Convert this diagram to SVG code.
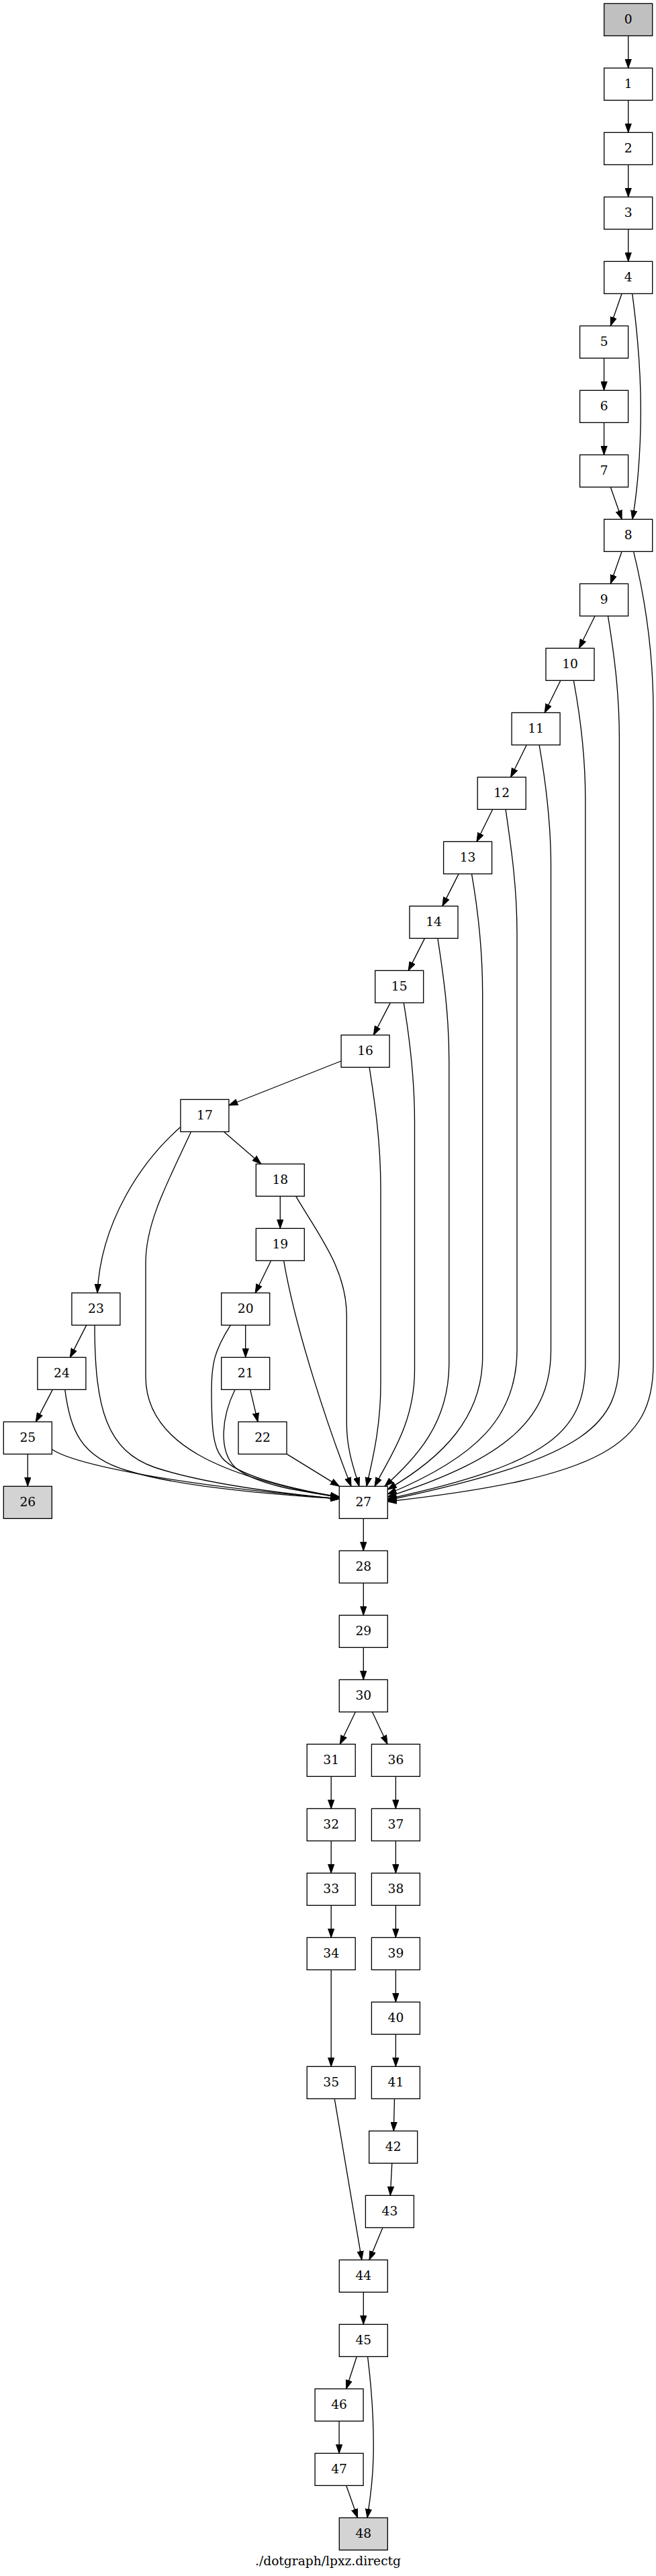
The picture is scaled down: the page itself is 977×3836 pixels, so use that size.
<svg xmlns="http://www.w3.org/2000/svg" width="977" height="3836" viewBox="0 0 977 3836">
<style>
.n rect{fill:#ffffff;stroke:#000000;stroke-width:1.33}
.n.g0 rect{fill:#c0c0c0}
.n.g1 rect{fill:#d3d3d3}
text{font-family:"DejaVu Serif","Liberation Serif",serif;font-size:18.67px;text-anchor:middle;fill:#000000}
#edges path{fill:none;stroke:#000000;stroke-width:1.33;marker-end:url(#ah)}
</style>
<defs>
<marker id="ah" markerUnits="userSpaceOnUse" markerWidth="14" markerHeight="10" refX="13.33" refY="4.67" orient="auto" viewBox="0 0 14 9.34">
<path d="M0,0 L13.33,4.67 L0,9.34 z" fill="#000000" stroke="#000000" stroke-width="1"/>
</marker>
</defs>
<rect x="0" y="0" width="977" height="3836" fill="#ffffff"/>
<g id="edges">
<path d="M935.7,53.33 L935.7,101.33"/>
<path d="M935.7,149.33 L935.7,197.33"/>
<path d="M935.7,245.33 L935.7,293.33"/>
<path d="M935.7,341.33 L935.7,389.33"/>
<path d="M926.1,437.33 L909.3,485.33"/>
<path d="M941.7,437.33 C950,500 954.3,560 954.3,610 C954.3,680 948,740 941.8,773.33"/>
<path d="M899.6,533.33 L899.6,581.33"/>
<path d="M899.6,629.33 L899.6,677.33"/>
<path d="M909.3,725.33 L926.1,773.33"/>
<path d="M926.1,821.33 L909.3,869.33"/>
<path d="M943.6,821.33 C958,880 973,960 973,1060 L973,2030 C973,2150 900,2200 577.3,2236"/>
<path d="M886.1,917.33 L862.4,965.33"/>
<path d="M905.5,917.33 C914,970 922.4,1030 922.4,1100 L922.4,2020 C922.4,2120 880,2170 577.3,2234"/>
<path d="M834.9,1013.33 L811.2,1061.33"/>
<path d="M854.3,1013.33 C863,1060 871.8,1120 871.8,1190 L871.8,2030 C871.8,2130 820,2180 577.3,2232"/>
<path d="M784.3,1109.33 L760.6,1157.33"/>
<path d="M803.1,1109.33 C812,1160 820.5,1220 820.5,1290 L820.5,2010 C820.5,2110 760,2170 577.3,2229"/>
<path d="M733.7,1205.33 L710,1253.33"/>
<path d="M753.1,1205.33 C761,1260 770,1320 770,1390 L770,2010 C770,2110 710,2170 577.3,2225"/>
<path d="M683.1,1301.33 L658.8,1349.33"/>
<path d="M702.5,1301.33 C711,1350 718.7,1410 718.7,1480 L718.7,2020 C718.7,2110 660,2170 577.3,2218"/>
<path d="M632.5,1397.33 L608.2,1445.33"/>
<path d="M651.9,1397.33 C660,1450 668.8,1510 668.8,1580 L668.8,2030 C668.8,2120 620,2170 573,2213.33"/>
<path d="M581.3,1493.33 L556.3,1541.33"/>
<path d="M601.3,1493.33 C609,1540 617.5,1600 617.5,1670 L617.5,2040 C617.5,2120 580,2170 558,2213.33"/>
<path d="M508.1,1580 L340.9,1646"/>
<path d="M550.1,1589.33 C558,1640 567,1700 567,1770 L567,2060 C567,2130 553,2180 546,2213.33"/>
<path d="M333.3,1685.33 L388.9,1733.33"/>
<path d="M268.9,1678.3 C210,1730 150,1820 145,1925.33"/>
<path d="M284.6,1685.33 C250,1760 217,1820 217,1880 L217,2050 C217,2150 330,2200 505.3,2230"/>
<path d="M417.3,1781.33 L417.3,1829.33"/>
<path d="M440.7,1781.33 C475,1840 516.3,1890 516.3,1960 L516.3,2120 C516.3,2160 528,2190 535,2213.33"/>
<path d="M403.7,1877.33 L380.2,1925.33"/>
<path d="M422.6,1877.33 C440,1980 490,2130 523,2213.33"/>
<path d="M365.7,1973.33 L365.7,2021.33"/>
<path d="M343.3,1973.33 C320,2010 315,2030 315,2070 C315,2130 318,2155 330,2170 C350,2195 420,2215 505.3,2229"/>
<path d="M372.7,2069.33 L384,2117.33"/>
<path d="M350,2069.33 C330,2110 325,2160 350,2185 C380,2210 440,2220 505.3,2229"/>
<path d="M427.3,2165.33 L505.3,2213.33"/>
<path d="M128.7,1973.33 L104.3,2021.33"/>
<path d="M141,1973.33 C141,2100 160,2160 230,2185 C300,2208 400,2222 505.3,2232"/>
<path d="M78.3,2069.33 L53.3,2117.33"/>
<path d="M96.7,2069.33 C105,2130 120,2170 190,2190 C260,2212 380,2224 505.3,2232"/>
<path d="M41.3,2165.33 L41.3,2213.33"/>
<path d="M77.3,2158.3 C110,2180 250,2210 505.3,2232"/>
<path d="M541.3,2261.33 L541.3,2309.33"/>
<path d="M541.3,2357.33 L541.3,2405.33"/>
<path d="M541.3,2453.33 L541.3,2501.33"/>
<path d="M529.4,2549.33 L506.3,2597.33"/>
<path d="M554.4,2549.33 L577,2597.33"/>
<path d="M493.2,2645.33 L493.2,2693.33"/>
<path d="M493.2,2741.33 L493.2,2789.33"/>
<path d="M493.2,2837.33 L493.2,2885.33"/>
<path d="M493.2,2933.33 L493.2,3077.33"/>
<path d="M498.2,3125.33 L538.8,3365.33"/>
<path d="M589.4,2645.33 L589.4,2693.33"/>
<path d="M589.4,2741.33 L589.4,2789.33"/>
<path d="M589.4,2837.33 L589.4,2885.33"/>
<path d="M589.4,2933.33 L589.4,2981.33"/>
<path d="M589.4,3029.33 L589.4,3077.33"/>
<path d="M587.5,3125.33 L586.3,3173.33"/>
<path d="M583.8,3221.33 L581.3,3269.33"/>
<path d="M570,3317.33 L550,3365.33"/>
<path d="M541.3,3413.33 L541.3,3461.33"/>
<path d="M531.3,3509.33 L515.7,3557.33"/>
<path d="M547.6,3509.33 C555,3570 557,3620 556,3660 C555,3700 550,3730 547,3749.33"/>
<path d="M505.1,3605.33 L505.1,3653.33"/>
<path d="M515.7,3701.33 L532.6,3749.33"/>
</g>
<g id="node0" class="n g0"><rect x="899.7" y="5.33" width="72" height="48"/><text x="935.7" y="34.93">0</text></g>
<g id="node1" class="n"><rect x="899.7" y="101.33" width="72" height="48"/><text x="935.7" y="130.93">1</text></g>
<g id="node2" class="n"><rect x="899.7" y="197.33" width="72" height="48"/><text x="935.7" y="226.93">2</text></g>
<g id="node3" class="n"><rect x="899.7" y="293.33" width="72" height="48"/><text x="935.7" y="322.93">3</text></g>
<g id="node4" class="n"><rect x="899.7" y="389.33" width="72" height="48"/><text x="935.7" y="418.93">4</text></g>
<g id="node5" class="n"><rect x="863.6" y="485.33" width="72" height="48"/><text x="899.6" y="514.93">5</text></g>
<g id="node6" class="n"><rect x="863.6" y="581.33" width="72" height="48"/><text x="899.6" y="610.93">6</text></g>
<g id="node7" class="n"><rect x="863.6" y="677.33" width="72" height="48"/><text x="899.6" y="706.93">7</text></g>
<g id="node8" class="n"><rect x="899.7" y="773.33" width="72" height="48"/><text x="935.7" y="802.93">8</text></g>
<g id="node9" class="n"><rect x="863.6" y="869.33" width="72" height="48"/><text x="899.6" y="898.93">9</text></g>
<g id="node10" class="n"><rect x="813" y="965.33" width="72" height="48"/><text x="849" y="994.93">10</text></g>
<g id="node11" class="n"><rect x="762.1" y="1061.33" width="72" height="48"/><text x="798.1" y="1090.93">11</text></g>
<g id="node12" class="n"><rect x="711.2" y="1157.33" width="72" height="48"/><text x="747.2" y="1186.93">12</text></g>
<g id="node13" class="n"><rect x="660.6" y="1253.33" width="72" height="48"/><text x="696.6" y="1282.93">13</text></g>
<g id="node14" class="n"><rect x="610" y="1349.33" width="72" height="48"/><text x="646" y="1378.93">14</text></g>
<g id="node15" class="n"><rect x="558.7" y="1445.33" width="72" height="48"/><text x="594.7" y="1474.93">15</text></g>
<g id="node16" class="n"><rect x="508.1" y="1541.33" width="72" height="48"/><text x="544.1" y="1570.93">16</text></g>
<g id="node17" class="n"><rect x="268.9" y="1637.33" width="72" height="48"/><text x="304.9" y="1666.93">17</text></g>
<g id="node18" class="n"><rect x="381.3" y="1733.33" width="72" height="48"/><text x="417.3" y="1762.93">18</text></g>
<g id="node19" class="n"><rect x="381.3" y="1829.33" width="72" height="48"/><text x="417.3" y="1858.93">19</text></g>
<g id="node20" class="n"><rect x="329.7" y="1925.33" width="72" height="48"/><text x="365.7" y="1954.93">20</text></g>
<g id="node21" class="n"><rect x="329.7" y="2021.33" width="72" height="48"/><text x="365.7" y="2050.93">21</text></g>
<g id="node22" class="n"><rect x="355" y="2117.33" width="72" height="48"/><text x="391" y="2146.93">22</text></g>
<g id="node23" class="n"><rect x="106.9" y="1925.33" width="72" height="48"/><text x="142.9" y="1954.93">23</text></g>
<g id="node24" class="n"><rect x="55.9" y="2021.33" width="72" height="48"/><text x="91.9" y="2050.93">24</text></g>
<g id="node25" class="n"><rect x="5.3" y="2117.33" width="72" height="48"/><text x="41.3" y="2146.93">25</text></g>
<g id="node26" class="n g1"><rect x="5.3" y="2213.33" width="72" height="48"/><text x="41.3" y="2242.93">26</text></g>
<g id="node27" class="n"><rect x="505.3" y="2213.33" width="72" height="48"/><text x="541.3" y="2242.93">27</text></g>
<g id="node28" class="n"><rect x="505.3" y="2309.33" width="72" height="48"/><text x="541.3" y="2338.93">28</text></g>
<g id="node29" class="n"><rect x="505.3" y="2405.33" width="72" height="48"/><text x="541.3" y="2434.93">29</text></g>
<g id="node30" class="n"><rect x="505.3" y="2501.33" width="72" height="48"/><text x="541.3" y="2530.93">30</text></g>
<g id="node31" class="n"><rect x="457.2" y="2597.33" width="72" height="48"/><text x="493.2" y="2626.93">31</text></g>
<g id="node32" class="n"><rect x="457.2" y="2693.33" width="72" height="48"/><text x="493.2" y="2722.93">32</text></g>
<g id="node33" class="n"><rect x="457.2" y="2789.33" width="72" height="48"/><text x="493.2" y="2818.93">33</text></g>
<g id="node34" class="n"><rect x="457.2" y="2885.33" width="72" height="48"/><text x="493.2" y="2914.93">34</text></g>
<g id="node35" class="n"><rect x="457.2" y="3077.33" width="72" height="48"/><text x="493.2" y="3106.93">35</text></g>
<g id="node36" class="n"><rect x="553.4" y="2597.33" width="72" height="48"/><text x="589.4" y="2626.93">36</text></g>
<g id="node37" class="n"><rect x="553.4" y="2693.33" width="72" height="48"/><text x="589.4" y="2722.93">37</text></g>
<g id="node38" class="n"><rect x="553.4" y="2789.33" width="72" height="48"/><text x="589.4" y="2818.93">38</text></g>
<g id="node39" class="n"><rect x="553.4" y="2885.33" width="72" height="48"/><text x="589.4" y="2914.93">39</text></g>
<g id="node40" class="n"><rect x="553.4" y="2981.33" width="72" height="48"/><text x="589.4" y="3010.93">40</text></g>
<g id="node41" class="n"><rect x="553.4" y="3077.33" width="72" height="48"/><text x="589.4" y="3106.93">41</text></g>
<g id="node42" class="n"><rect x="549.7" y="3173.33" width="72" height="48"/><text x="585.7" y="3202.93">42</text></g>
<g id="node43" class="n"><rect x="544.4" y="3269.33" width="72" height="48"/><text x="580.4" y="3298.93">43</text></g>
<g id="node44" class="n"><rect x="505.3" y="3365.33" width="72" height="48"/><text x="541.3" y="3394.93">44</text></g>
<g id="node45" class="n"><rect x="505.3" y="3461.33" width="72" height="48"/><text x="541.3" y="3490.93">45</text></g>
<g id="node46" class="n"><rect x="469.1" y="3557.33" width="72" height="48"/><text x="505.1" y="3586.93">46</text></g>
<g id="node47" class="n"><rect x="469.1" y="3653.33" width="72" height="48"/><text x="505.1" y="3682.93">47</text></g>
<g id="node48" class="n g1"><rect x="505.3" y="3749.33" width="72" height="48"/><text x="541.3" y="3778.93">48</text></g>
<text id="graph-label" x="488.5" y="3820">./dotgraph/lpxz.directg</text>
</svg>
